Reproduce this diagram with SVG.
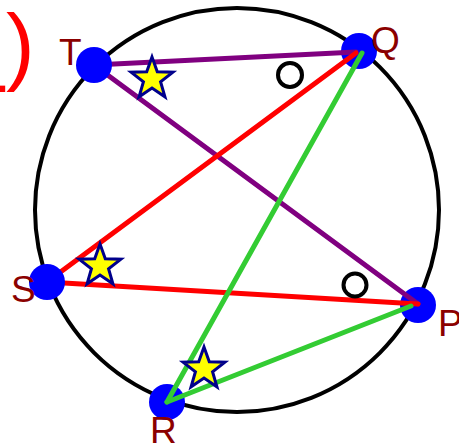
<svg xmlns="http://www.w3.org/2000/svg" width="459" height="448" viewBox="0 0 459 448">
<style>
.lbl{font-family:"Liberation Sans",Arial,sans-serif;font-size:37px;fill:#8B0000}
.dot{fill:#0000FF}
.star{fill:#FFFF00;stroke:#00008B;stroke-width:3}
.mark{fill:none;stroke:#000;stroke-width:4}
.edge{fill:none;stroke-width:5;stroke-linecap:round}
</style>
<defs>
<polygon id="star" points="0,-22 5.29,-7.28 20.92,-6.8 8.56,2.78 12.93,17.8 0,9 -12.93,17.8 -8.56,2.78 -20.92,-6.8 -5.29,-7.28"/>
</defs>
<rect width="459" height="448" fill="#fff"/>
<text x="-6" y="92" font-family="Liberation Sans,Arial,sans-serif" font-size="60" fill="#FF0000">.<tspan x="6" y="74" font-size="86">)</tspan></text>
<circle cx="237" cy="210" r="202" fill="none" stroke="#000" stroke-width="4"/>
<g id="Q"><circle class="dot" cx="359" cy="51" r="18"/><text class="lbl" x="371" y="53">Q</text></g>
<g id="P"><circle class="dot" cx="418" cy="305" r="18"/><text class="lbl" x="438" y="336">P</text></g>
<g id="R"><circle class="dot" cx="167" cy="402" r="18"/><text class="lbl" x="150" y="443">R</text></g>
<g id="connectors">
<line class="edge" stroke="#800080" x1="94" y1="65" x2="356" y2="52"/>
<line class="edge" stroke="#800080" x1="94" y1="65" x2="418" y2="304"/>
<line class="edge" stroke="#FF0000" x1="356" y1="53" x2="47" y2="282"/>
<line class="edge" stroke="#FF0000" x1="47" y1="282" x2="418" y2="304"/>
<line class="edge" stroke="#33CC33" x1="362" y1="53" x2="167" y2="402"/>
<line class="edge" stroke="#33CC33" x1="167" y1="402" x2="411" y2="306"/>
</g>
<g id="T"><circle class="dot" cx="94" cy="65" r="18"/><text class="lbl" x="59" y="65">T</text></g>
<g id="S"><circle class="dot" cx="47" cy="282" r="18"/><text class="lbl" x="11" y="302">S</text></g>
<g id="marks">
<circle class="mark" cx="290" cy="75" r="12"/>
<circle class="mark" cx="355" cy="285" r="11.5"/>
<use href="#star" class="star" x="152" y="79"/>
<use href="#star" class="star" x="100" y="266"/>
<use href="#star" class="star" x="204" y="369"/>
</g>
</svg>
